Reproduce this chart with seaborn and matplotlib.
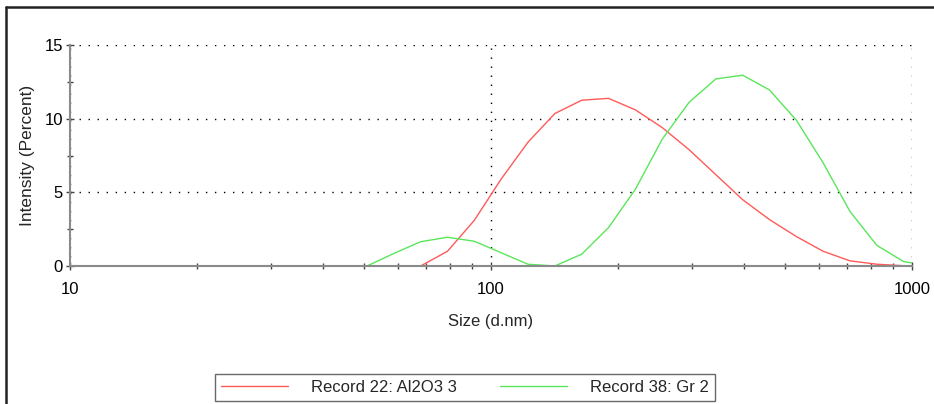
import numpy as np
import pandas as pd
import seaborn as sns
import matplotlib.pyplot as plt
from matplotlib.lines import Line2D
from matplotlib.ticker import LogLocator, NullFormatter, FixedLocator, MultipleLocator

# size classes (d.nm) and intensity distributions
sizes = [8.721, 10.10, 11.70, 13.54, 15.69, 18.17, 21.04, 24.36, 28.21, 32.67,
         37.84, 43.82, 50.75, 58.77, 68.06, 78.82, 91.28, 105.7, 122.4, 141.8,
         164.2, 190.1, 220.2, 255.0, 295.3, 342.0, 396.1, 458.7, 531.2, 615.1,
         712.4, 825.0, 955.4, 1106]
al2o3 = [0, 0, 0, 0, 0, 0, 0, 0, 0, 0, 0, 0, 0, 0,
         0, 1.0, 3.1, 5.9, 8.4, 10.35, 11.25, 11.38, 10.6, 9.4,
         7.9, 6.2, 4.5, 3.15, 2.0, 1.0, 0.35, 0.12, 0.02, 0]
gr = [0, 0, 0, 0, 0, 0, 0, 0, 0, 0, 0, 0, 0,
      0.85, 1.65, 1.95, 1.68, 0.9, 0.12, 0, 0.8, 2.6, 5.2,
      8.6, 11.1, 12.7, 12.95, 11.95, 9.9, 7.0, 3.7, 1.4, 0.3, 0]
labels = ["Record 22: Al2O3 3", "Record 38: Gr 2"]
colors = ["#ff5a5a", "#5ae65a"]

df = pd.DataFrame({
    "size": sizes * 2,
    "pct": al2o3 + gr,
    "rec": [labels[0]] * len(sizes) + [labels[1]] * len(sizes),
})

sns.set_theme(style="white")
plt.rcParams["font.family"] = ["Liberation Sans", "DejaVu Sans"]
fs = 12

fig = plt.figure(figsize=(9.34, 4.04), dpi=100)
ax = fig.add_axes([70 / 934, 1 - 266 / 404, 842 / 934, 221 / 404])

sns.lineplot(data=df, x="size", y="pct", hue="rec", palette=colors,
             estimator=None, sort=False, linewidth=1.0, ax=ax)
handles, labs = ax.get_legend_handles_labels()
ax.get_legend().remove()

ax.set_xscale("log")
ax.set_xlim(10, 1000)
ax.set_ylim(0, 15)
ax.xaxis.set_major_locator(FixedLocator([10, 100, 1000]))
ax.set_xticklabels(["10", "100", "1000"])
ax.xaxis.set_minor_locator(LogLocator(base=10, subs=np.arange(2, 10)))
ax.xaxis.set_minor_formatter(NullFormatter())
ax.yaxis.set_major_locator(MultipleLocator(5))
ax.yaxis.set_minor_locator(MultipleLocator(2.5))

ax.grid(True, which="major", color="black", linestyle=(0, (1, 5.5)), linewidth=1.0)
for s in ["top", "right"]:
    ax.spines[s].set_visible(False)
for s in ["left", "bottom"]:
    ax.spines[s].set_color("#8a8a8a")
    ax.spines[s].set_linewidth(1.5)
ax.tick_params(which="both", bottom=True, left=True, direction="inout",
               colors="#444444", labelcolor="black", labelsize=fs)
ax.tick_params(which="major", length=6, width=1)
ax.tick_params(which="minor", length=5, width=1)
ax.tick_params(axis="x", pad=8.5)
ax.tick_params(axis="y", pad=2)

ax.set_xlabel("Size (d.nm)", fontsize=fs)
ax.set_ylabel("Intensity (Percent)", fontsize=12.5)
ax.xaxis.set_label_coords(0.499, -0.215)
ax.yaxis.set_label_coords(-0.042, 0.5)

leg = fig.legend(handles, labs, ncol=2, loc="upper left",
                 bbox_to_anchor=(215 / 934, 1 - 374 / 404), fontsize=fs,
                 frameon=True, fancybox=False, edgecolor="#444444",
                 handlelength=4.0, handletextpad=1.4, columnspacing=2.6,
                 borderpad=0.35, borderaxespad=0)
leg.get_frame().set_linewidth(1.0)
for h in leg.legend_handles:
    h.set_linewidth(1.0)

# outer panel border
fig.add_artist(Line2D([6 / 934, 6 / 934], [0, 1 - 7 / 404], color="#222222",
                      linewidth=1.8, transform=fig.transFigure))
fig.add_artist(Line2D([6 / 934, 1], [1 - 7 / 404, 1 - 7 / 404], color="#222222",
                      linewidth=1.8, transform=fig.transFigure))

fig.savefig("out.png", dpi=100)
